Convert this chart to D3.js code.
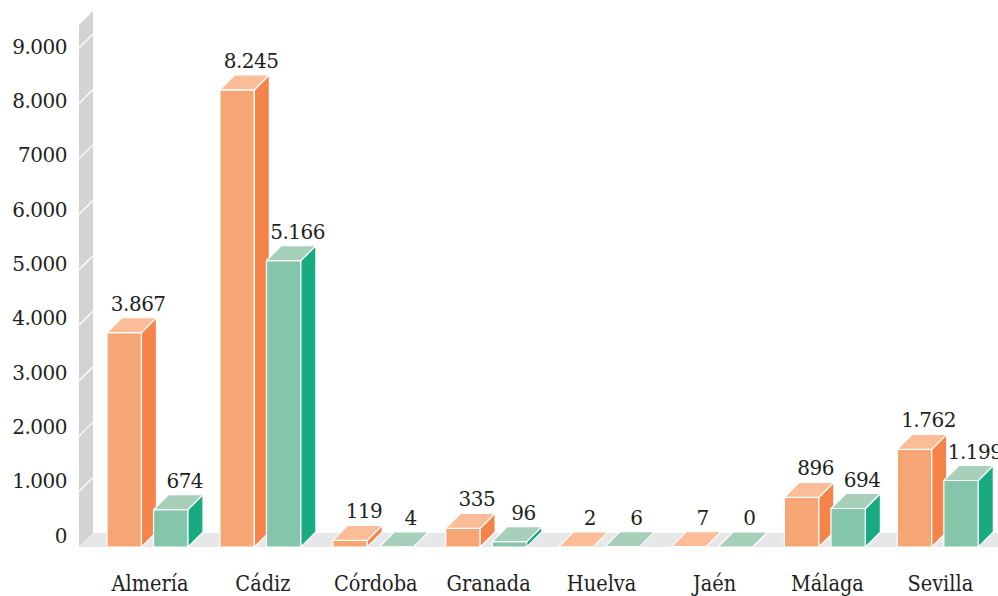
<!DOCTYPE html>
<html><head><meta charset="utf-8">
<script src="https://cdn.jsdelivr.net/npm/d3@7"></script>
<style>html,body{margin:0;padding:0;background:#fff;}svg{display:block;}</style>
</head><body>
<script>
const categories = ["Almería","Cádiz","Córdoba","Granada","Huelva","Jaén","Málaga","Sevilla"];
const seriesA = [3867, 8245, 119, 335, 2, 7, 896, 1762];
const seriesB = [674, 5166, 4, 96, 6, 0, 694, 1199];
const tickValues = [0,1000,2000,3000,4000,5000,6000,7000,8000,9000];
const tickLabels = ["0","1.000","2.000","3.000","4.000","5.000","6.000","7000","8.000","9.000"];

const W = 998, H = 596;
const svg = d3.select("body").append("svg").attr("width", W).attr("height", H);

const DX = 15, DY = 15;
const y = d3.scaleLinear().domain([0, 9000]).range([547, 48]);
const yLab = d3.scaleLinear().domain([0, 9000]).range([537, 48]);
const x0 = d3.scaleBand().domain(categories).range([107, 107 + 8 * 112.9]).paddingInner(0).paddingOuter(0);
const x1 = d3.scaleBand().domain(["a","b"]).range([0, 81]).paddingInner(0.26).paddingOuter(0);

const fmt = v => {
  const s = String(v);
  return s.length > 3 ? s.slice(0, s.length - 3) + "." + s.slice(-3) : s;
};

const colors = {
  a: {front: "#f6a674", side: "#f5844a", top: "#fbbd97"},
  b: {front: "#84c6a9", side: "#18aa80", top: "#a7d0ba"}
};

// floor
const wx = 79, wd = 14;
svg.append("polygon")
  .attr("points", [[wx, y(0)], [wx + wd, y(0) - wd], [W + 2, y(0) - wd], [W + 2, y(0)]].map(p => p.join(",")).join(" "))
  .attr("fill", "#e6e7e9");
// wall
svg.append("polygon")
  .attr("points", [[wx, y(0)], [wx, 25], [wx + wd, 11], [wx + wd, y(0) - wd]].map(p => p.join(",")).join(" "))
  .attr("fill", "#d1d3d5");
// tick lines on wall
svg.append("g").selectAll("line").data(tickValues.filter(v => v > 0)).join("line")
  .attr("x1", wx).attr("y1", d => y(d))
  .attr("x2", wx + wd).attr("y2", d => y(d) - wd)
  .attr("stroke", "#fff").attr("stroke-width", 1.3);

// tick labels
svg.append("g").selectAll("text").data(tickValues).join("text")
  .attr("x", 67).attr("y", d => yLab(d))
  .attr("text-anchor", "end").attr("dominant-baseline", "middle")
  .attr("font-family", "DejaVu Serif").attr("font-size", 20).attr("fill", "#231f20")
  .attr("letter-spacing", -0.5)
  .text((d, i) => tickLabels[i]);

// bars
const bars = [];
categories.forEach((c, i) => {
  bars.push({c, s: "a", v: seriesA[i]});
  bars.push({c, s: "b", v: seriesB[i]});
});

const pts = arr => arr.map(p => p.join(",")).join(" ");
const g = svg.append("g");
bars.forEach(b => {
  const xl = x0(b.c) + x1(b.s);
  const w = x1.bandwidth();
  const yb = y(0), yt = y(b.v);
  const col = colors[b.s];
  const bg = g.append("g").attr("stroke", "#fff").attr("stroke-width", 1.2).attr("stroke-linejoin", "round");
  if (yb - yt > 0.5) {
    bg.append("polygon").attr("points", pts([[xl, yb], [xl, yt], [xl + w, yt], [xl + w, yb]])).attr("fill", col.front);
    bg.append("polygon").attr("points", pts([[xl + w, yb], [xl + w, yt], [xl + w + DX, yt - DY], [xl + w + DX, yb - DY]])).attr("fill", col.side);
  }
  bg.append("polygon").attr("points", pts([[xl, yt], [xl + DX, yt - DY], [xl + w + DX, yt - DY], [xl + w, yt]])).attr("fill", col.top);
  g.append("text")
    .attr("x", xl + w / 2 + DX - 1).attr("y", yt - DY - 7)
    .attr("text-anchor", "middle")
    .attr("font-family", "DejaVu Serif").attr("font-size", 20).attr("fill", "#231f20")
    .attr("letter-spacing", -0.5)
    .text(fmt(b.v));
});

// category labels (slightly condensed serif)
svg.append("g").selectAll("text").data(categories).join("text")
  .attr("transform", d => `translate(${x0(d) + 43},591) scale(0.88,1)`)
  .attr("text-anchor", "middle")
  .attr("font-family", "DejaVu Serif").attr("font-size", 22).attr("fill", "#231f20")
  .text(d => d);
</script>
</body></html>
